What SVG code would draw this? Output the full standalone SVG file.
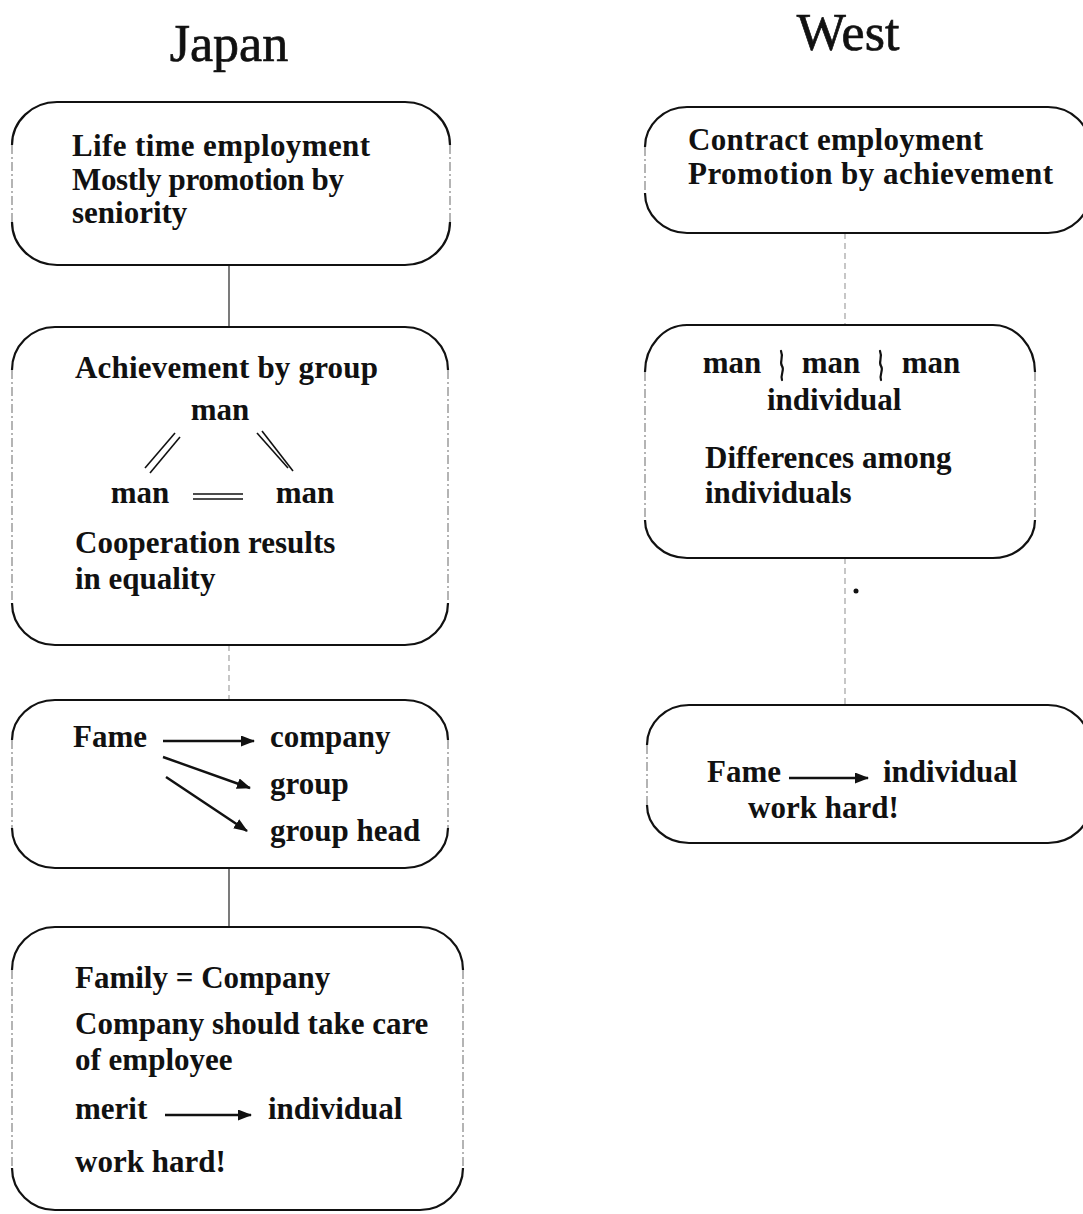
<svg xmlns="http://www.w3.org/2000/svg" width="1083" height="1214" viewBox="0 0 1083 1214">
  <style>
    .bg { fill: #ffffff; }
    .title { font-family: "Liberation Serif", "Times New Roman", serif; font-size: 52px; fill: #111; stroke: #111; stroke-width: 0.7; }
    .t { font-family: "Liberation Serif", "Times New Roman", serif; font-size: 31px; font-weight: bold; fill: #111; }
    .edge { fill: none; stroke: #111; stroke-width: 2.2; }
    .side { fill: none; stroke: #777; stroke-width: 1.1; stroke-dasharray: 9 3 2 3; }
    .link { fill: none; stroke: #333; stroke-width: 1.3; }
    .faint { fill: none; stroke: #999; stroke-width: 1.1; stroke-dasharray: 6 4; }
    .arr { fill: none; stroke: #111; stroke-width: 2.4; marker-end: url(#head); }
    .rule { fill: none; stroke: #111; stroke-width: 1.6; }
    .wave { fill: none; stroke: #111; stroke-width: 2.2; stroke-linecap: round; }
  </style>
  <defs>
    <marker id="head" viewBox="0 0 14 11" refX="13" refY="5.5" markerWidth="14" markerHeight="11" markerUnits="userSpaceOnUse" orient="auto">
      <path d="M0,0 L14,5.5 L0,11 Z" fill="#111"/>
    </marker>
  </defs>

  <rect class="bg" x="0" y="0" width="1083" height="1214"/>

  <!-- column headings -->
  <text class="title" x="229" y="61" text-anchor="middle">Japan</text>
  <text class="title" x="848" y="50" text-anchor="middle">West</text>

  <!-- connectors -->
  <g id="connectors">
    <line class="link" x1="229" y1="265" x2="229" y2="327"/>
    <line class="faint" x1="229" y1="645" x2="229" y2="700"/>
    <line class="link" x1="229" y1="868" x2="229" y2="927"/>
    <line class="faint" x1="845" y1="233" x2="845" y2="325"/>
    <line class="faint" x1="845" y1="558" x2="845" y2="705"/>
    <circle cx="856" cy="591" r="2.5" fill="#111"/>
  </g>

  <!-- Japan: employment -->
  <g id="japan-employment">
    <path class="edge" d="M12,145 A45,43 0 0 1 57,102 L405,102 A45,43 0 0 1 450,145"/>
    <path class="edge" d="M12,222 A45,43 0 0 0 57,265 L405,265 A45,43 0 0 0 450,222"/>
    <path class="side" d="M12,145 L12,222 M450,145 L450,222"/>
    <text class="t" x="72" y="156" textLength="298">Life time employment</text>
    <text class="t" x="72" y="190" textLength="272">Mostly promotion by</text>
    <text class="t" x="72" y="223">seniority</text>
  </g>

  <!-- Japan: group achievement -->
  <g id="japan-group">
    <path class="edge" d="M12,370 A43,43 0 0 1 55,327 L405,327 A43,43 0 0 1 448,370"/>
    <path class="edge" d="M12,603 A43,42 0 0 0 55,645 L405,645 A43,42 0 0 0 448,603"/>
    <path class="side" d="M12,370 L12,603 M448,370 L448,603"/>
    <text class="t" x="75" y="378" textLength="303">Achievement by group</text>
    <text class="t" x="220" y="420" text-anchor="middle">man</text>
    <line class="rule" x1="145" y1="468" x2="175" y2="433"/>
    <line class="rule" x1="150" y1="473" x2="180" y2="437"/>
    <line class="rule" x1="257" y1="433" x2="288" y2="468"/>
    <line class="rule" x1="262" y1="431" x2="293" y2="471"/>
    <text class="t" x="140" y="503" text-anchor="middle">man</text>
    <line class="rule" x1="193" y1="494" x2="243" y2="494"/>
    <line class="rule" x1="193" y1="499" x2="243" y2="499"/>
    <text class="t" x="305" y="503" text-anchor="middle">man</text>
    <text class="t" x="75" y="553">Cooperation results</text>
    <text class="t" x="75" y="589">in equality</text>
  </g>

  <!-- Japan: fame -->
  <g id="japan-fame">
    <path class="edge" d="M12,740 A43,40 0 0 1 55,700 L405,700 A43,40 0 0 1 448,740"/>
    <path class="edge" d="M12,828 A43,40 0 0 0 55,868 L405,868 A43,40 0 0 0 448,828"/>
    <path class="side" d="M12,740 L12,828 M448,740 L448,828"/>
    <text class="t" x="73" y="747">Fame</text>
    <line class="arr" x1="163" y1="741" x2="254" y2="741"/>
    <line class="arr" x1="163" y1="757" x2="250" y2="788"/>
    <line class="arr" x1="166" y1="777" x2="247" y2="831"/>
    <text class="t" x="270" y="747">company</text>
    <text class="t" x="270" y="794">group</text>
    <text class="t" x="270" y="841">group head</text>
  </g>

  <!-- Japan: family -->
  <g id="japan-family">
    <path class="edge" d="M12,970 A43,43 0 0 1 55,927 L420,927 A43,43 0 0 1 463,970"/>
    <path class="edge" d="M12,1168 A43,42 0 0 0 55,1210 L420,1210 A43,42 0 0 0 463,1168"/>
    <path class="side" d="M12,970 L12,1168 M463,970 L463,1168"/>
    <text class="t" x="75" y="988">Family = Company</text>
    <text class="t" x="75" y="1034">Company should take care</text>
    <text class="t" x="75" y="1070">of employee</text>
    <text class="t" x="75" y="1119">merit</text>
    <line class="arr" x1="165" y1="1115" x2="251" y2="1115"/>
    <text class="t" x="268" y="1119">individual</text>
    <text class="t" x="75" y="1172">work hard!</text>
  </g>

  <!-- West: employment -->
  <g id="west-employment">
    <path class="edge" d="M645,147 A42,40 0 0 1 687,107 L1048,107 A42,40 0 0 1 1090,147"/>
    <path class="edge" d="M645,193 A42,40 0 0 0 687,233 L1048,233 A42,40 0 0 0 1090,193"/>
    <path class="side" d="M645,147 L645,193"/>
    <text class="t" x="688" y="150" textLength="295">Contract employment</text>
    <text class="t" x="688" y="184" textLength="365">Promotion by achievement</text>
  </g>

  <!-- West: individuals -->
  <g id="west-individual">
    <path class="edge" d="M645,372 A42,47 0 0 1 687,325 L993,325 A42,47 0 0 1 1035,372"/>
    <path class="edge" d="M645,520 A42,38 0 0 0 687,558 L993,558 A42,38 0 0 0 1035,520"/>
    <path class="side" d="M645,372 L645,520 M1035,372 L1035,520"/>
    <text class="t" x="732" y="373" text-anchor="middle">man</text>
    <path class="wave" d="M781,351 C784,358 779,362 782,366 C785,370 780,374 782,380"/>
    <text class="t" x="831" y="373" text-anchor="middle">man</text>
    <path class="wave" d="M880,351 C883,358 878,362 881,366 C884,370 879,374 881,380"/>
    <text class="t" x="931" y="373" text-anchor="middle">man</text>
    <text class="t" x="767" y="410">individual</text>
    <text class="t" x="705" y="468">Differences among</text>
    <text class="t" x="705" y="503">individuals</text>
  </g>

  <!-- West: fame -->
  <g id="west-fame">
    <path class="edge" d="M647,745 A42,40 0 0 1 689,705 L1048,705 A42,40 0 0 1 1090,745"/>
    <path class="edge" d="M647,805 A42,38 0 0 0 689,843 L1048,843 A42,38 0 0 0 1090,805"/>
    <path class="side" d="M647,745 L647,805"/>
    <text class="t" x="707" y="782">Fame</text>
    <line class="arr" x1="789" y1="778" x2="868" y2="778"/>
    <text class="t" x="883" y="782">individual</text>
    <text class="t" x="748" y="818">work hard!</text>
  </g>
</svg>
